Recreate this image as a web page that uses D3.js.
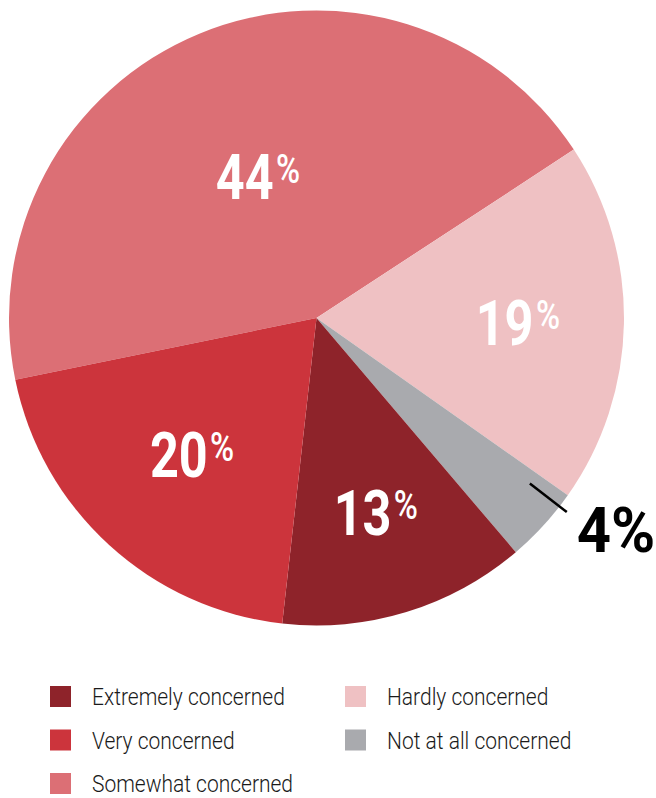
<!DOCTYPE html>
<html>
<head>
<meta charset="utf-8">
<script src="https://cdn.jsdelivr.net/npm/d3@7"></script>
<style>
  html, body { margin: 0; padding: 0; background: #fff; }
  svg { display: block; }
  .pct { font-family: Roboto, "Liberation Sans", sans-serif; font-weight: bold; }
  .legend text { font-family: Roboto, "Liberation Sans", sans-serif; font-weight: 300; font-size: 24px; fill: #1a1a1a; }
</style>
</head>
<body>
<svg id="chart" width="656" height="798"></svg>
<script>
// Share of respondents by level of concern (percent), in drawing order
const categories = ["Somewhat concerned", "Hardly concerned", "Not at all concerned", "Extremely concerned", "Very concerned"];
const values = [44, 19, 4, 13, 20];
const colors = ["#DC6F75", "#EFC1C3", "#A9AAAE", "#8E232A", "#CC343C"];

// Legend order, two columns
const legendLeft = ["Extremely concerned", "Very concerned", "Somewhat concerned"];
const legendRight = ["Hardly concerned", "Not at all concerned"];

// Distance of each in-slice label from the centre, as a share of the radius
const labelRadius = [0.5, 0.655, null, 0.66, 0.6];

const svg = d3.select("#chart");
const cx = 316.5, cy = 318, R = 307.5;
const narrow = 0.8;   // horizontal squeeze giving a condensed face

const color = d3.scaleOrdinal().domain(categories).range(colors);

const startDeg = -101.6;
const pie = d3.pie()
  .value(d => d.value)
  .sort(null)
  .startAngle(startDeg * Math.PI / 180)
  .endAngle((startDeg + 360) * Math.PI / 180);

const data = categories.map((c, i) => ({ name: c, value: values[i], idx: i }));
const arcs = pie(data);
const arc = d3.arc().innerRadius(0).outerRadius(R);

const g = svg.append("g").attr("transform", `translate(${cx},${cy})`);

g.selectAll("path.slice")
  .data(arcs)
  .join("path")
  .attr("class", "slice")
  .attr("d", arc)
  .attr("fill", d => color(d.data.name));

// Labels inside the larger slices: big number with a raised, smaller percent sign
const inside = arcs.filter(d => labelRadius[d.data.idx] != null);
const labels = g.selectAll("g.inlabel")
  .data(inside)
  .join("g")
  .attr("class", "inlabel")
  .attr("transform", d => {
    const a = (d.startAngle + d.endAngle) / 2;
    const r = labelRadius[d.data.idx] * R;
    return `translate(${r * Math.sin(a)},${-r * Math.cos(a) + 23}) scale(${narrow},1)`;
  })
  .append("text")
  .attr("class", "pct")
  .attr("fill", "#fff")
  .attr("text-anchor", "middle");
labels.append("tspan")
  .attr("font-size", 63)
  .text(d => d.data.value);
labels.append("tspan")
  .attr("font-size", 41)
  .attr("font-weight", 500)
  .attr("dy", -16)
  .attr("dx", 3)
  .text("%");

// Small slice: leader line and outside label
const small = arcs.find(d => labelRadius[d.data.idx] == null);
const am = small.startAngle + 0.18 * (small.endAngle - small.startAngle);
const p0 = [0.878 * R * Math.sin(am), -0.878 * R * Math.cos(am)];
const p1 = [1.03 * R * Math.sin(am), -1.03 * R * Math.cos(am)];
g.append("line")
  .attr("x1", p0[0]).attr("y1", p0[1])
  .attr("x2", p1[0]).attr("y2", p1[1])
  .attr("stroke", "#000")
  .attr("stroke-width", 2.5);
g.append("g")
  .attr("transform", `translate(${p1[0] + 10},${p1[1] + 40}) scale(0.95,1)`)
  .append("text")
  .attr("class", "pct")
  .attr("font-size", 63)
  .attr("fill", "#000")
  .text(small.data.value + "%");

// Legend
const legend = svg.append("g").attr("class", "legend");
function legendColumn(items, x) {
  const rows = legend.selectAll(null)
    .data(items)
    .join("g")
    .attr("transform", (d, i) => `translate(${x},${686 + i * 43.5})`);
  rows.append("rect")
    .attr("width", 21).attr("height", 21)
    .attr("fill", d => color(d));
  rows.append("g")
    .attr("transform", `translate(42,19) scale(0.875,1)`)
    .append("text")
    .text(d => d);
}
legendColumn(legendLeft, 50);
legendColumn(legendRight, 345);
</script>
</body>
</html>
